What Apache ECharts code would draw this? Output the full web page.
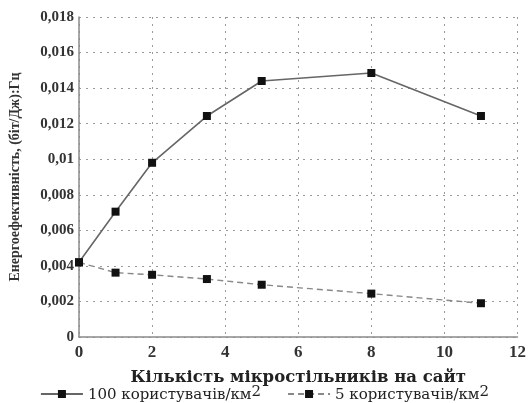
<!DOCTYPE html>
<html>
<head>
<meta charset="utf-8">
<script src="https://cdn.jsdelivr.net/npm/echarts@6/dist/echarts.min.js"></script>
<style>
  html, body { margin: 0; padding: 0; background: #fff; }
  #chart { width: 529px; height: 403px; }
</style>
</head>
<body>
<div id="chart"></div>
<script>
// Number of small cells per site
const cellsPerSite = [0, 1, 2, 3.5, 5, 8, 11];
// Energy efficiency, (bit/J):Hz
const dense100 = [0.0042, 0.00705, 0.0098, 0.01243, 0.0144, 0.01485, 0.01243];
const sparse5 = [0.0042, 0.00362, 0.0035, 0.00326, 0.00294, 0.00244, 0.0019];
const seriesNames = ['100 користувачів/км', '5 користувачів/км'];

const serif = 'Liberation Serif';
const wideSerif = 'DejaVu Serif';
const fmt = v => (v === 0 ? '0' : String(parseFloat(v.toFixed(3))).replace('.', ','));
const grid = { color: '#9a9a9a', width: 1, type: [2, 5] };

const chart = echarts.init(document.getElementById('chart'), null, { renderer: 'canvas' });
chart.setOption({
  backgroundColor: '#fff',
  animation: false,
  grid: { left: 75, right: 8, top: 17, bottom: 66 },
  xAxis: {
    type: 'value', min: 0, max: 12, interval: 2,
    name: 'Кількість мікростільників на сайт',
    nameLocation: 'middle', nameGap: 32,
    nameTextStyle: { fontFamily: wideSerif, fontSize: 16.5, fontWeight: 'bold', color: '#222' },
    axisLine: { lineStyle: { color: '#8a8a8a', width: 1.5 } },
    axisTick: { show: false },
    axisLabel: { fontFamily: serif, fontSize: 17, fontWeight: 'bold', color: '#333', margin: 7 },
    splitLine: { show: true, lineStyle: grid }
  },
  yAxis: {
    type: 'value', min: 0, max: 0.018, interval: 0.002,
    name: 'Енергоефективність, (біт/Дж):Гц',
    nameLocation: 'middle', nameGap: 57,
    nameTextStyle: { fontFamily: serif, fontSize: 14, fontWeight: 'bold', color: '#333' },
    axisLine: { show: true, lineStyle: { color: '#8a8a8a', width: 1.5 } },
    axisTick: { show: false },
    axisLabel: { fontFamily: serif, fontSize: 15, fontWeight: 'bold', color: '#333', margin: 5, formatter: fmt },
    splitLine: { show: true, lineStyle: grid }
  },
  legend: {
    top: 380, left: 'center', itemWidth: 42, itemHeight: 10, itemGap: 26,
    data: seriesNames,
    formatter: n => '{t|' + n + '}{s|2}',
    textStyle: {
      fontFamily: wideSerif, fontSize: 15, color: '#222',
      rich: {
        t: { fontFamily: wideSerif, fontSize: 15, color: '#222', lineHeight: 18, verticalAlign: 'bottom' },
        s: { fontFamily: wideSerif, fontSize: 15, color: '#222', lineHeight: 18, verticalAlign: 'top' }
      }
    }
  },
  series: [
    {
      name: seriesNames[0], type: 'line',
      data: cellsPerSite.map((x, i) => [x, dense100[i]]),
      symbol: 'rect', symbolSize: 8,
      itemStyle: { color: '#111' },
      lineStyle: { color: '#666', width: 1.6, type: 'solid' }
    },
    {
      name: seriesNames[1], type: 'line',
      data: cellsPerSite.map((x, i) => [x, sparse5[i]]),
      symbol: 'rect', symbolSize: 8,
      itemStyle: { color: '#111' },
      lineStyle: { color: '#888', width: 1.4, type: [6, 4] }
    }
  ]
});
</script>
</body>
</html>
